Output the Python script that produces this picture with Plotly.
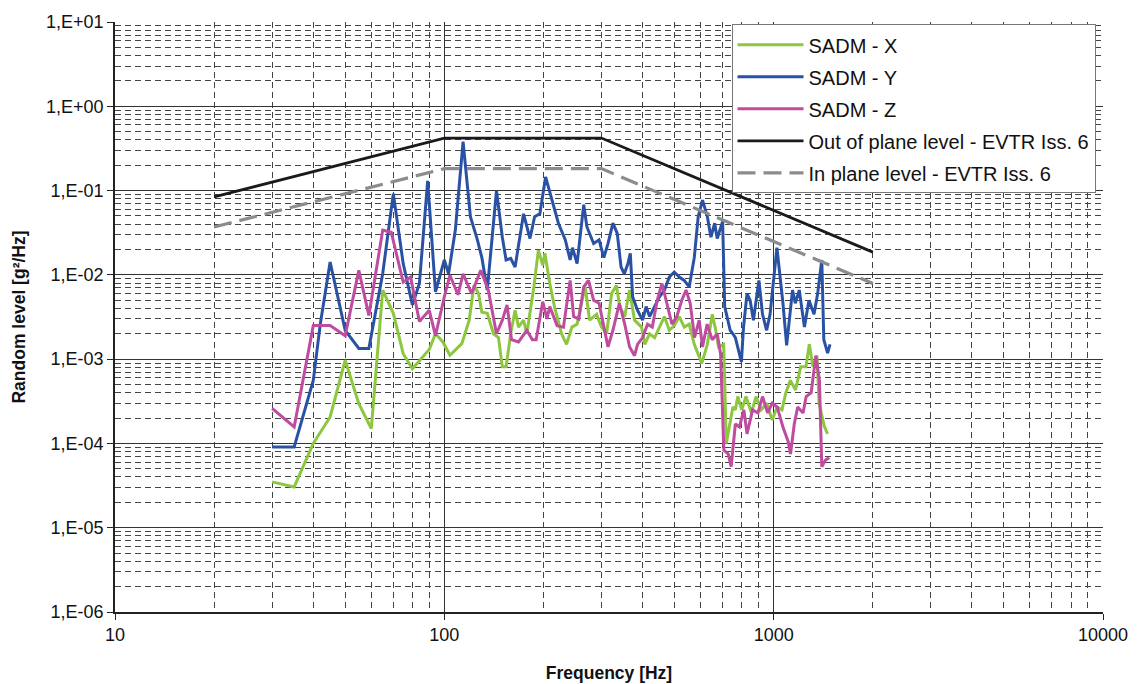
import plotly.graph_objects as go

# ---------------- data ----------------
x_freq = [30, 35, 40, 45, 50, 55, 60, 65, 70, 75, 80, 86, 90, 94, 99, 104, 113, 119, 123, 127,
          130, 135, 141, 146, 150, 154, 159, 164, 168, 174, 178, 187, 193, 199, 202, 209, 216,
          227, 235, 244, 253, 262, 268, 276, 290, 300, 311, 322, 333, 341, 353, 365, 378, 397,
          406, 420, 435, 450, 466, 482, 499, 517, 535, 554, 574, 605, 629, 651, 664, 680, 705,
          718, 752, 765, 778, 800, 824, 856, 884, 916, 952, 990, 1024, 1060, 1089, 1124, 1165,
          1208, 1253, 1283, 1316, 1353, 1374, 1425, 1458]
x_val = [3.5e-5, 3.05e-5, 1.0e-4, 2.06e-4, 9.7e-4, 2.97e-4, 1.5e-4, 6.6e-3, 3.5e-3, 1.16e-3,
         7.7e-4, 1.06e-3, 1.3e-3, 2.0e-3, 1.6e-3, 1.11e-3, 1.53e-3, 2.9e-3, 7.5e-3, 6.0e-3,
         3.6e-3, 3.5e-3, 2.0e-3, 1.8e-3, 8.1e-4, 8.1e-4, 2.0e-3, 3.8e-3, 2.4e-3, 2.9e-3,
         2.0e-3, 7.2e-3, 1.96e-2, 1.3e-2, 1.8e-2, 7.9e-3, 4.2e-3, 2.0e-3, 1.5e-3, 2.4e-3,
         2.6e-3, 5.0e-3, 7.2e-3, 2.9e-3, 3.4e-3, 2.4e-3, 2.0e-3, 6.0e-3, 7.5e-3, 4.2e-3,
         3.2e-3, 6.6e-3, 2.9e-3, 2.4e-3, 1.5e-3, 2.0e-3, 1.8e-3, 2.4e-3, 3.2e-3, 2.2e-3,
         2.5e-3, 3.2e-3, 2.4e-3, 2.6e-3, 1.5e-3, 8.9e-4, 1.5e-3, 3.4e-3, 2.4e-3, 1.4e-3,
         1.5e-3, 1.0e-4, 2.7e-4, 2.5e-4, 3.6e-4, 2.5e-4, 3.6e-4, 2.3e-4, 3.6e-4, 2.5e-4,
         3.0e-4, 1.9e-4, 2.7e-4, 2.5e-4, 4.0e-4, 5.6e-4, 4.3e-4, 8.1e-4, 8.1e-4, 1.5e-3,
         8.1e-4, 1.1e-3, 3.0e-4, 1.6e-4, 1.3e-4]

y_freq = [30, 35, 40, 42, 45, 50, 55, 59, 65, 70, 75, 80, 84, 89, 94, 100, 103, 108, 114, 120,
          126, 130, 135, 139, 144, 150, 154, 159, 164, 174, 182, 188, 195, 203, 212, 222, 233,
          241, 245, 253, 265, 271, 284, 295, 305, 314, 325, 335, 344, 352, 361, 367, 373, 386,
          400, 410, 420, 435, 450, 466, 482, 499, 517, 535, 554, 574, 590, 608, 629, 645, 662,
          674, 700, 710, 738, 752, 765, 798, 810, 830, 848, 868, 902, 925, 952, 975, 1023,
          1067, 1095, 1141, 1163, 1196, 1240, 1280, 1326, 1360, 1400, 1420, 1458, 1483]
y_val = [9.1e-5, 9.1e-5, 5.6e-4, 2.6e-3, 1.42e-2, 2.2e-3, 1.34e-3, 1.34e-3, 1.04e-2, 9.2e-2,
         1.36e-2, 4.4e-3, 7.9e-3, 0.13, 6.3e-3, 1.5e-2, 1.03e-2, 3.4e-2, 0.38, 4.9e-2,
         2.6e-2, 1.6e-2, 6.6e-3, 2.1e-2, 0.1, 2.8e-2, 1.5e-2, 1.57e-2, 1.24e-2, 5.3e-2,
         2.7e-2, 4.9e-2, 5.3e-2, 0.145, 7.7e-2, 4.1e-2, 2.6e-2, 1.5e-2, 2.1e-2, 1.36e-2,
         6.8e-2, 3.7e-2, 2.35e-2, 2.6e-2, 1.6e-2, 2.35e-2, 4.1e-2, 3.1e-2, 1.24e-2, 1.03e-2,
         1.36e-2, 1.8e-2, 5.5e-3, 3.8e-3, 2.9e-3, 4.2e-3, 3.2e-3, 4.2e-3, 5.5e-3, 6.6e-3,
         9.4e-3, 1.08e-2, 9.4e-3, 8.6e-3, 7.2e-3, 1.6e-2, 4.9e-2, 7.7e-2, 4.9e-2, 2.8e-2,
         4.1e-2, 2.7e-2, 4.3e-2, 4.2e-3, 2.2e-3, 2.0e-3, 1.8e-3, 9.3e-4, 2.4e-3, 6.0e-3,
         5.0e-3, 2.9e-3, 8.6e-3, 3.4e-3, 2.2e-3, 3.4e-3, 2.1e-2, 4.6e-3, 1.46e-3, 6.6e-3,
         4.6e-3, 6.6e-3, 2.4e-3, 5.0e-3, 3.4e-3, 6.0e-3, 1.5e-2, 1.7e-3, 1.18e-3, 1.5e-3]

z_freq = [30, 35, 40, 45, 50, 55, 59, 65, 69, 75, 79, 84, 90, 94, 100, 104, 110, 114, 121, 129,
          136, 144, 150, 155, 160, 168, 178, 185, 190, 199, 205, 209, 220, 230, 241, 247, 256,
          265, 274, 284, 295, 302, 314, 325, 340, 353, 365, 378, 386, 400, 414, 428, 443, 458,
          474, 491, 508, 526, 542, 558, 575, 594, 608, 628, 651, 674, 690, 706, 728, 743, 765,
          787, 812, 830, 863, 896, 925, 959, 990, 1025, 1067, 1107, 1125, 1155, 1183, 1228,
          1255, 1300, 1343, 1377, 1400, 1435, 1475]
z_val = [2.6e-4, 1.57e-4, 2.5e-3, 2.5e-3, 1.9e-3, 1.13e-2, 3.3e-3, 3.4e-2, 3.2e-2, 8.2e-3,
         9.4e-3, 2.8e-3, 3.8e-3, 1.9e-3, 5.5e-3, 9.9e-3, 5.8e-3, 1.03e-2, 6.0e-3, 1.13e-2,
         6.6e-3, 2.0e-3, 2.9e-3, 4.4e-3, 1.7e-3, 1.6e-3, 2.2e-3, 1.7e-3, 1.7e-3, 4.8e-3,
         3.0e-3, 4.2e-3, 2.5e-3, 2.4e-3, 8.6e-3, 3.2e-3, 3.0e-3, 7.2e-3, 8.6e-3, 5.0e-3,
         4.6e-3, 2.9e-3, 1.4e-3, 2.2e-3, 4.6e-3, 2.6e-3, 1.4e-3, 1.1e-3, 1.5e-3, 1.8e-3,
         2.6e-3, 2.4e-3, 5.0e-3, 7.9e-3, 4.6e-3, 2.6e-3, 3.2e-3, 5.0e-3, 6.6e-3, 4.6e-3,
         1.8e-3, 2.9e-3, 1.4e-3, 2.6e-3, 1.7e-3, 2.0e-3, 1.15e-3, 8.3e-5, 7.5e-5, 5.3e-5,
         1.7e-4, 1.57e-4, 2.5e-4, 1.3e-4, 2.5e-4, 2.3e-4, 3.6e-4, 2.3e-4, 3.0e-4, 2.7e-4,
         1.57e-4, 1.05e-4, 7.5e-5, 1.7e-4, 2.7e-4, 2.3e-4, 3.6e-4, 4.0e-4, 1.1e-3, 5.6e-4,
         5.3e-5, 6.3e-5, 6.8e-5]

oop_freq = [20, 100, 300, 2000]
oop_val = [0.084, 0.42, 0.42, 0.0186]
ip_freq = [20, 100, 300, 2000]
ip_val = [0.037, 0.182, 0.182, 0.0079]

series_names = ["SADM - X", "SADM - Y", "SADM - Z",
                "Out of plane level - EVTR Iss. 6", "In plane level - EVTR Iss. 6"]

y_tickvals = [1e-6, 1e-5, 1e-4, 1e-3, 1e-2, 1e-1, 1e0, 1e1]
y_ticktext = ["1,E-06", "1,E-05", "1,E-04", "1,E-03", "1,E-02", "1,E-01", "1,E+00", "1,E+01"]
x_tickvals = [10, 100, 1000, 10000]
x_ticktext = ["10", "100", "1000", "10000"]

# ---------------- figure ----------------
FONT = "Liberation Sans, Arial, sans-serif"
fig = go.Figure()

fig.add_trace(go.Scatter(x=x_freq, y=x_val, mode="lines", name=series_names[0],
                         legendgroup="a", line=dict(color="#8DC63F", width=3)))
fig.add_trace(go.Scatter(x=y_freq, y=y_val, mode="lines", name=series_names[1],
                         legendgroup="b", line=dict(color="#2A52A4", width=3)))
fig.add_trace(go.Scatter(x=z_freq, y=z_val, mode="lines", name=series_names[2],
                         legendgroup="c", line=dict(color="#BF4C9F", width=3)))
fig.add_trace(go.Scatter(x=oop_freq, y=oop_val, mode="lines", name=series_names[3],
                         legendgroup="d", line=dict(color="#1A1A1A", width=2.8)))
fig.add_trace(go.Scatter(x=ip_freq, y=ip_val, mode="lines", name=series_names[4],
                         legendgroup="e", line=dict(color="#8C8C8C", width=3.2, dash="18px,8px")))

grid_major = "#333333"
grid_minor = "#444444"

fig.update_xaxes(
    type="log", range=[1, 4], automargin=False,
    tickvals=x_tickvals, ticktext=x_ticktext,
    showgrid=True, gridcolor=grid_major, gridwidth=1.2,
    showline=True, linecolor="#222", linewidth=1.5,
    ticks="outside", ticklen=6, tickcolor="#222",
    minor=dict(dtick="D1", showgrid=True, gridcolor=grid_minor, gridwidth=1,
               griddash="6px,4px", ticks=""),
    tickfont=dict(family=FONT, size=18, color="#111"),
    title=dict(text="<b>Frequency [Hz]</b>", font=dict(family=FONT, size=17.5, color="#111"),
               standoff=22),
    zeroline=False,
)
fig.update_yaxes(
    type="log", range=[-6, 1], automargin=False,
    tickvals=y_tickvals, ticktext=y_ticktext,
    showgrid=True, gridcolor=grid_major, gridwidth=1.2,
    showline=True, linecolor="#222", linewidth=1.5,
    ticks="outside", ticklen=6, tickcolor="#222",
    minor=dict(dtick="D1", showgrid=True, gridcolor=grid_minor, gridwidth=1,
               griddash="6px,4px", ticks=""),
    tickfont=dict(family=FONT, size=18, color="#111"),
    title=dict(text="<b>Random level [g²/Hz]</b>", font=dict(family=FONT, size=17.5, color="#111"),
               standoff=16),
    zeroline=False,
)

fig.update_layout(
    width=1137, height=684,
    margin=dict(l=115, r=34, t=22, b=72),
    paper_bgcolor="white", plot_bgcolor="white",
    font=dict(family=FONT, size=18, color="#111"),
    legend=dict(x=0.624, y=0.996, xanchor="left", yanchor="top",
                bgcolor="white", bordercolor="#777", borderwidth=1,
                font=dict(family=FONT, size=20, color="#111"),
                tracegroupgap=3, itemwidth=66),
    showlegend=True,
)

fig.write_html("out.html")
